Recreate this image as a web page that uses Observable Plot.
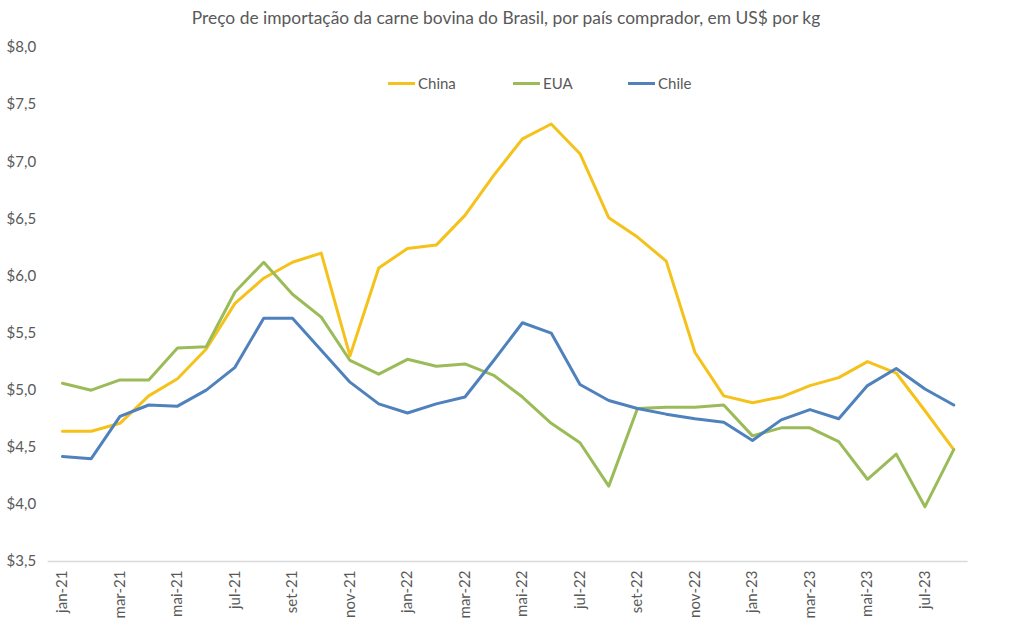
<!DOCTYPE html>
<html>
<head>
<meta charset="utf-8">
<script src="https://cdn.jsdelivr.net/npm/d3@7"></script>
<script src="https://cdn.jsdelivr.net/npm/@observablehq/plot@0.6"></script>
<style>
  html, body { margin: 0; padding: 0; background: #fff; }
  #chart { position: relative; width: 1012px; height: 630px; font-family: Lato, "Open Sans", sans-serif; color: #595959; }
  #title { height: 36px; line-height: 36px; text-align: center; font-size: 17.4px; color: #595959; }
  #legend { position: absolute; top: 74px; left: 0; width: 1012px; height: 18px; }
  .item { position: absolute; top: 0; display: flex; align-items: center; font-size: 15px; color: #595959; }
  .swatch { width: 27px; height: 3px; margin-right: 3px; }
</style>
</head>
<body>
<div id="chart">
  <div id="title">Preço de importação da carne bovina do Brasil, por país comprador, em US$ por kg</div>
  <div id="legend"></div>
</div>
<script>
// Monthly import prices (US$ per kg), Jan 2021 – Aug 2023
const months = [
  "jan-21","fev-21","mar-21","abr-21","mai-21","jun-21","jul-21","ago-21","set-21","out-21","nov-21","dez-21",
  "jan-22","fev-22","mar-22","abr-22","mai-22","jun-22","jul-22","ago-22","set-22","out-22","nov-22","dez-22",
  "jan-23","fev-23","mar-23","abr-23","mai-23","jun-23","jul-23","ago-23"
];
const china = [4.64,4.64,4.71,4.95,5.10,5.36,5.76,5.98,6.12,6.20,5.30,6.07,
               6.24,6.27,6.53,6.88,7.20,7.33,7.07,6.51,6.34,6.13,5.33,4.95,
               4.89,4.94,5.04,5.11,5.25,5.15,4.82,4.48];
const eua   = [5.06,5.00,5.09,5.09,5.37,5.38,5.86,6.12,5.84,5.64,5.26,5.14,
               5.27,5.21,5.23,5.13,4.94,4.71,4.54,4.16,4.84,4.85,4.85,4.87,
               4.60,4.67,4.67,4.55,4.22,4.44,3.98,4.48];
const chile = [4.42,4.40,4.77,4.87,4.86,5.00,5.20,5.63,5.63,5.35,5.07,4.88,
               4.80,4.88,4.94,5.26,5.59,5.50,5.05,4.91,4.84,4.79,4.75,4.72,
               4.56,4.74,4.83,4.75,5.04,5.19,5.01,4.87];
const seriesNames = ["China", "EUA", "Chile"];
const seriesColors = ["#F5C21B", "#9BBB59", "#4F81BD"];
const yTicks = [3.5, 4.0, 4.5, 5.0, 5.5, 6.0, 6.5, 7.0, 7.5, 8.0];
const xTicks = months.filter((d, i) => i % 2 === 0);

// Long-format table for the line marks
const seriesValues = [china, eua, chile];
const rows = [];
seriesNames.forEach((name, s) => {
  months.forEach((m, i) => rows.push({month: m, value: seriesValues[s][i], series: name}));
});

const fmt = d => "$" + d.toFixed(1).replace(".", ",");

const plot = Plot.plot({
  width: 1012,
  height: 594,
  marginTop: 11,
  marginBottom: 69,
  marginLeft: 47.6,
  marginRight: 44.4,
  style: {fontFamily: 'Lato, "Open Sans", sans-serif', fontSize: "15px", color: "#595959", background: "#fff"},
  // each month sits at the centre of an equal-width slot across the plot area
  x: {type: "point", domain: months, padding: 0.5, round: false, label: null},
  y: {domain: [3.5, 8.0], label: null},
  color: {domain: seriesNames, range: seriesColors},
  marks: [
    Plot.axisY({ticks: yTicks, tickFormat: fmt, tickSize: 0, tickPadding: 12, fontSize: 15}),
    Plot.axisX({ticks: xTicks, tickSize: 0, tickPadding: 9, tickRotate: -90, fontSize: 15}),
    Plot.ruleY([3.5], {stroke: "#d9d9d9", strokeWidth: 1.3}),
    Plot.line(rows, {x: "month", y: "value", z: "series", stroke: "series", strokeWidth: 3, strokeLinejoin: "round", strokeLinecap: "round"})
  ]
});
document.getElementById("chart").appendChild(plot);

// Legend entries placed inside the plot area
const legendX = [388, 513, 628];
const legend = document.getElementById("legend");
seriesNames.forEach((name, i) => {
  const item = document.createElement("div");
  item.className = "item";
  item.style.left = legendX[i] + "px";
  const sw = document.createElement("span");
  sw.className = "swatch";
  sw.style.background = seriesColors[i];
  const label = document.createElement("span");
  label.textContent = name;
  item.appendChild(sw);
  item.appendChild(label);
  legend.appendChild(item);
});
</script>
</body>
</html>
